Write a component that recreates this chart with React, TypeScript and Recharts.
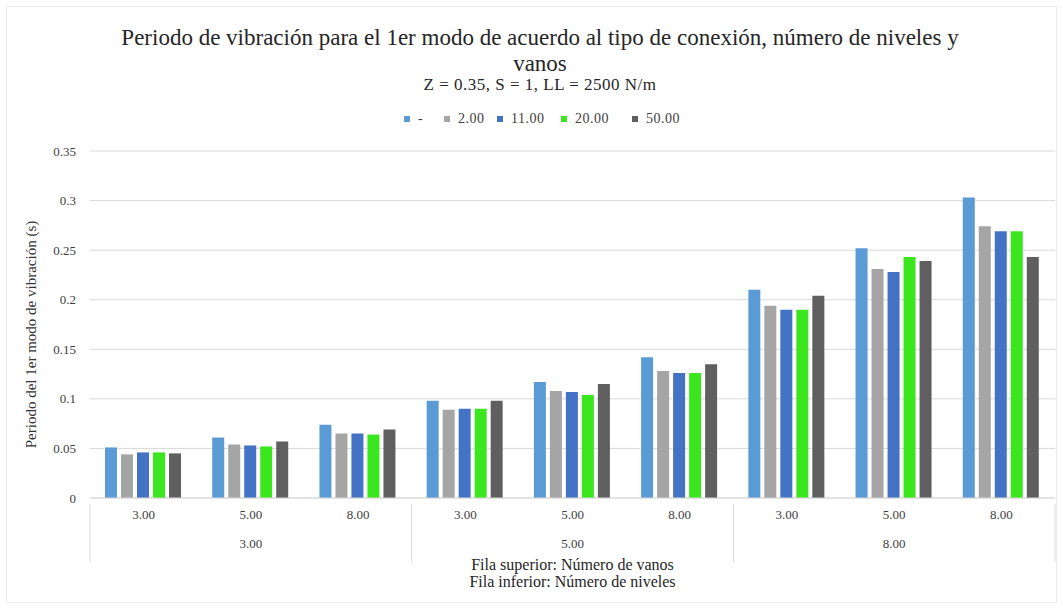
import React from 'react';
import { BarChart, Bar, XAxis, YAxis, CartesianGrid } from 'recharts';

// x categories: top row = number of bays (vanos), bottom row = number of levels (niveles)
const vanos = ['3.00', '5.00', '8.00', '3.00', '5.00', '8.00', '3.00', '5.00', '8.00'];
const niveles = ['3.00', '3.00', '3.00', '5.00', '5.00', '5.00', '8.00', '8.00', '8.00'];

const seriesNames = ['-', '2.00', '11.00', '20.00', '50.00'];
const seriesColors = ['#5B9BD5', '#A5A5A5', '#4472C4', '#3CE61E', '#5F5F5F'];

const sDash = [0.051, 0.061, 0.074, 0.098, 0.117, 0.142, 0.210, 0.252, 0.303];
const s2 = [0.044, 0.054, 0.065, 0.089, 0.108, 0.128, 0.194, 0.231, 0.274];
const s11 = [0.046, 0.053, 0.065, 0.090, 0.107, 0.126, 0.190, 0.228, 0.269];
const s20 = [0.046, 0.052, 0.064, 0.090, 0.104, 0.126, 0.190, 0.243, 0.269];
const s50 = [0.045, 0.057, 0.069, 0.098, 0.115, 0.135, 0.204, 0.239, 0.243];

const yTicks = [0, 0.05, 0.1, 0.15, 0.2, 0.25, 0.3, 0.35];

const data = vanos.map((v, i) => ({
  vanos: v,
  niveles: niveles[i],
  s0: sDash[i],
  s1: s2[i],
  s2: s11[i],
  s3: s20[i],
  s4: s50[i],
}));

const FONT = '"Liberation Serif", "Times New Roman", serif';
const W = 1063;
const H = 608;
const PLOT_LEFT = 90;
const PLOT_RIGHT = 8;
const BAND = (W - PLOT_LEFT - PLOT_RIGHT) / vanos.length;
// legend item x positions (marker left edge)
const legendX = [404, 444, 497, 561, 632];

function NivelesTick(props: any) {
  const { x, y, index, payload } = props;
  const left = x - BAND / 2;
  return (
    <g>
      {index % 3 === 0 && (
        <line x1={left} y1={y - 30} x2={left} y2={y + 28} stroke="#d9d9d9" />
      )}
      {index === vanos.length - 1 && (
        <line x1={left + BAND} y1={y - 30} x2={left + BAND} y2={y + 28} stroke="#d9d9d9" />
      )}
      {index % 3 === 1 && (
        <text x={x} y={y + 14} textAnchor="middle" fill="#404040" fontSize={13} fontFamily={FONT}>
          {payload.value}
        </text>
      )}
    </g>
  );
}

function YLabel(props: any) {
  const { viewBox } = props;
  const cx = viewBox.x + 6;
  const cy = viewBox.y + viewBox.height / 2 + 10;
  return (
    <text
      x={cx}
      y={cy}
      transform={`rotate(-90, ${cx}, ${cy})`}
      textAnchor="middle"
      fill="#333"
      fontSize={15}
      fontFamily={FONT}
    >
      Periodo del 1er modo de vibración (s)
    </text>
  );
}

export default function App() {
  return (
    <div style={{ position: 'absolute', left: 0, top: 0, width: W, height: H, background: '#fff', fontFamily: FONT }}>
      <div style={{ position: 'absolute', left: 6, top: 6, right: 6, bottom: 5, border: '1px solid #ececec' }} />
      <div style={{ position: 'absolute', left: 0, width: 1080, top: 25, textAlign: 'center', fontSize: 23, color: '#262626', lineHeight: '26px' }}>
        Periodo de vibración para el 1er modo de acuerdo al tipo de conexión, número de niveles y
        <br />
        vanos
      </div>
      <div style={{ position: 'absolute', left: 0, width: 1080, top: 75, textAlign: 'center', fontSize: 17, letterSpacing: 0.5, color: '#262626' }}>
        Z = 0.35, S = 1, LL = 2500 N/m
      </div>
      {seriesNames.map((n, i) => (
        <div
          key={n}
          style={{ position: 'absolute', left: legendX[i], top: 110, display: 'flex', alignItems: 'center', gap: 8, fontSize: 14, letterSpacing: 0.5, color: '#404040', lineHeight: '18px' }}
        >
          <span style={{ width: 6, height: 6, background: seriesColors[i], display: 'inline-block' }} />
          <span>{n}</span>
        </div>
      ))}
      <div style={{ position: 'absolute', left: 0, top: 0 }}>
        <BarChart
          width={W}
          height={H}
          data={data}
          margin={{ top: 151, right: PLOT_RIGHT, left: 30, bottom: 52 }}
          barCategoryGap={15}
          barGap={4}
        >
          <CartesianGrid vertical={false} stroke="#d9d9d9" />
          <XAxis
            xAxisId={0}
            dataKey="vanos"
            interval={0}
            height={28}
            tickLine={false}
            axisLine={{ stroke: '#d9d9d9' }}
            tick={{ fill: '#404040', fontSize: 13, fontFamily: FONT }}
            tickMargin={6}
          />
          <XAxis
            xAxisId={1}
            dataKey="niveles"
            interval={0}
            height={30}
            tickLine={false}
            axisLine={false}
            tick={<NivelesTick />}
            allowDuplicatedCategory
          />
          <YAxis
            width={60}
            domain={[0, 0.35]}
            ticks={yTicks}
            axisLine={false}
            tickLine={false}
            tick={{ fill: '#404040', fontSize: 13, fontFamily: FONT }}
            tickMargin={8}
            label={<YLabel />}
          />
          {seriesNames.map((n, i) => (
            <Bar
              key={n}
              xAxisId={0}
              dataKey={`s${i}`}
              name={n}
              fill={seriesColors[i]}
              isAnimationActive={false}
            />
          ))}
        </BarChart>
      </div>
      <div style={{ position: 'absolute', left: PLOT_LEFT, width: W - PLOT_LEFT - PLOT_RIGHT, top: 556, textAlign: 'center', fontSize: 16, color: '#1f1f1f', lineHeight: '17px' }}>
        Fila superior: Número de vanos
        <br />
        Fila inferior: Número de niveles
      </div>
    </div>
  );
}
